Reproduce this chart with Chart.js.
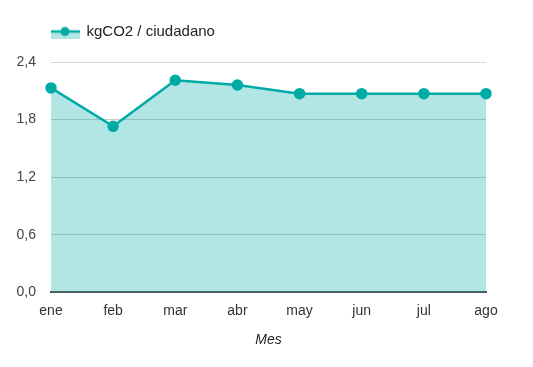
<!DOCTYPE html>
<html>
<head>
<meta charset="utf-8">
<script src="https://cdn.jsdelivr.net/npm/chart.js@4"></script>
<style>
    html, body { margin: 0; padding: 0; background: #fff; }
    #wrap { width: 533px; height: 367px; }
</style>
</head>
<body>
<div id="wrap"><canvas id="co2Chart"></canvas></div>
<script>
// Data
const months = ['ene', 'feb', 'mar', 'abr', 'may', 'jun', 'jul', 'ago'];
const co2PerCitizen = [2.13, 1.73, 2.21, 2.16, 2.07, 2.07, 2.07, 2.07];
const seriesLabel = 'kgCO2 / ciudadano';

const lineColor = '#00aba5';
const fillColor = 'rgba(0, 171, 165, 0.3)';

// Legend icon: line with dot over a light filled band
function makeLegendIcon() {
    const c = document.createElement('canvas');
    c.width = 30; c.height = 14;
    const g = c.getContext('2d');
    g.fillStyle = fillColor;
    g.fillRect(0, 7, 30, 7);
    g.strokeStyle = lineColor;
    g.lineWidth = 2.5;
    g.beginPath(); g.moveTo(0, 7); g.lineTo(30, 7); g.stroke();
    g.fillStyle = lineColor;
    g.beginPath(); g.arc(15, 7, 4.5, 0, Math.PI * 2); g.fill();
    return c;
}

// push the legend right and leave a gap below it
const legendSpacing = {
    id: 'legendSpacing',
    beforeInit(chart) {
        const fit = chart.legend.fit;
        chart.legend.fit = function () {
            fit.bind(chart.legend)();
            this.height += 13;
        };
    },
    afterLayout(chart) {
        chart.legend.left += 51;
    }
};

Chart.defaults.font.family = '"Liberation Sans", Arial, sans-serif';
Chart.defaults.color = '#444';

const ctx = document.getElementById('co2Chart').getContext('2d');
new Chart(ctx, {
    type: 'line',
    data: {
        labels: months,
        datasets: [{
            label: seriesLabel,
            data: co2PerCitizen,
            borderColor: lineColor,
            backgroundColor: fillColor,
            borderWidth: 2.5,
            pointRadius: 4.5,
            pointBackgroundColor: lineColor,
            pointBorderColor: lineColor,
            fill: 'origin',
            tension: 0
        }]
    },
    plugins: [legendSpacing],
    options: {
        responsive: true,
        maintainAspectRatio: false,
        animation: false,
        layout: { padding: { left: 0, right: 47, top: 24, bottom: 14 } },
        plugins: {
            tooltip: { enabled: false },
            legend: {
                align: 'start',
                labels: {
                    usePointStyle: true,
                    pointStyleWidth: 28,
                    boxHeight: 14,
                    color: '#222',
                    font: { size: 15 },
                    padding: 0,
                    generateLabels(chart) {
                        const items = Chart.defaults.plugins.legend.labels.generateLabels(chart);
                        items.forEach(it => { it.pointStyle = makeLegendIcon(); });
                        return items;
                    }
                }
            }
        },
        scales: {
            x: {
                offset: false,
                grid: { display: false, drawTicks: false },
                border: { display: true, color: '#555', width: 2 },
                ticks: { color: '#333', font: { size: 14 }, padding: 10, maxRotation: 0 },
                title: {
                    display: true,
                    text: 'Mes',
                    color: '#222',
                    font: { size: 14, style: 'italic' },
                    padding: { top: 3 }
                }
            },
            y: {
                min: 0,
                max: 2.4,
                afterFit(scale) { scale.width = 51; },
                grid: {
                    color: ctx => ctx.tick && ctx.tick.value === 2.4 ? '#d6d6d6' : '#cccccc',
                    drawTicks: false,
                    lineWidth: 1
                },
                border: { display: false },
                ticks: {
                    stepSize: 0.6,
                    color: '#444',
                    font: { size: 14 },
                    padding: 15,
                    callback: v => v.toFixed(1).replace('.', ',')
                }
            }
        }
    }
});
</script>
</body>
</html>
